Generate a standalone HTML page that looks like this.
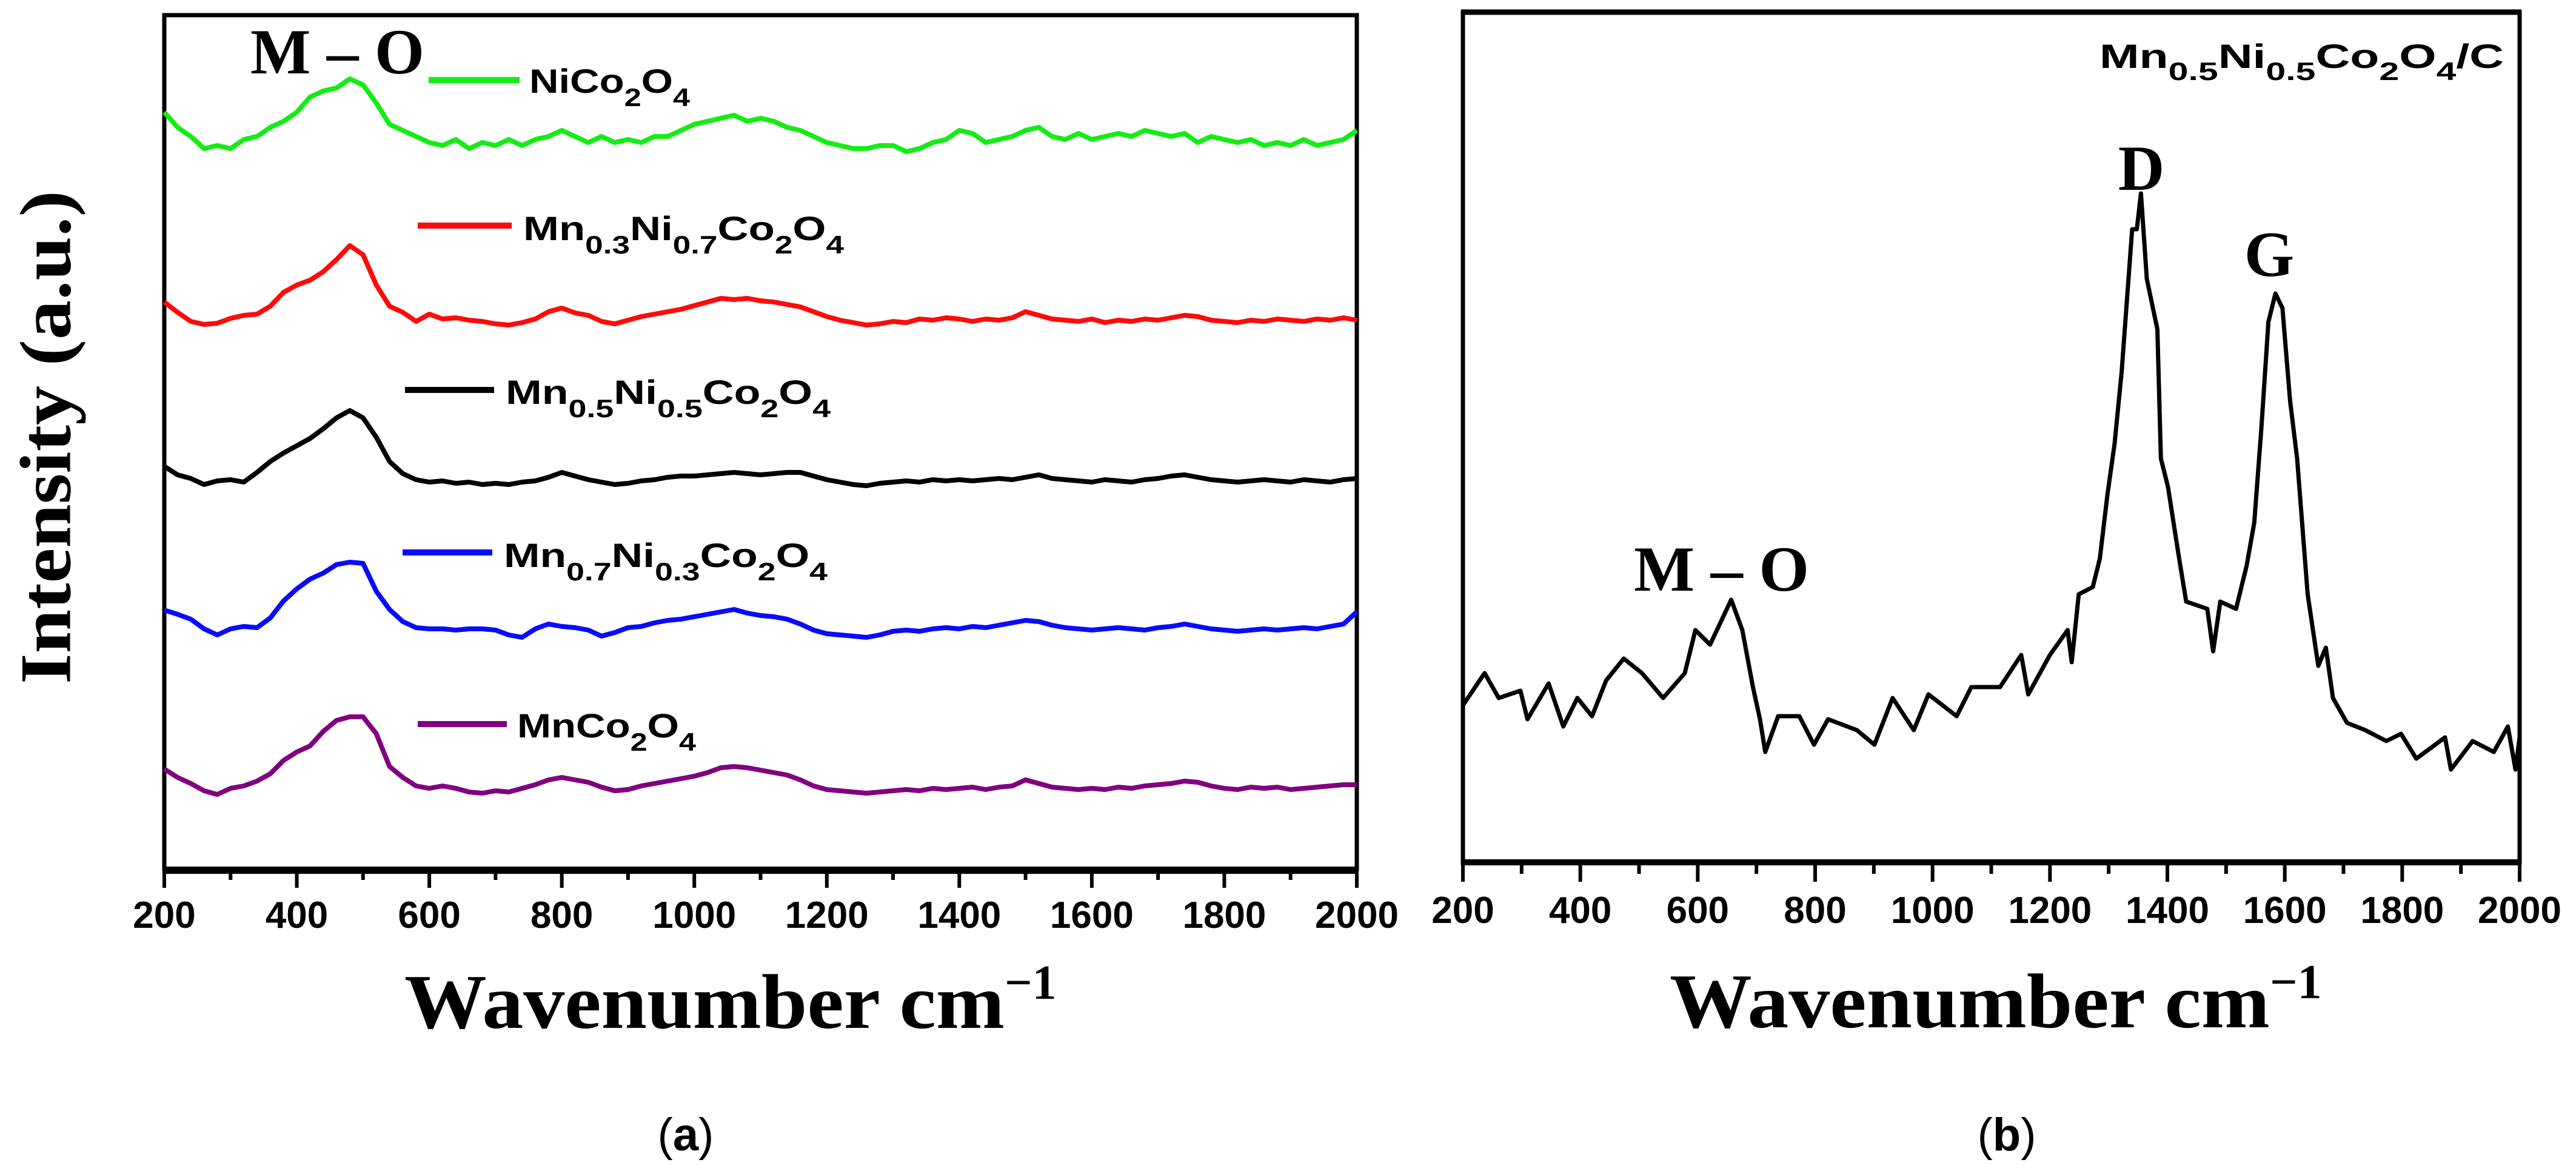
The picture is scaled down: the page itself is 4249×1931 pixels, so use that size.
<!DOCTYPE html>
<html><head><meta charset="utf-8"><style>
html,body{margin:0;padding:0;background:#fff;}
svg{display:block;}
text{font-family:"Liberation Sans",sans-serif;}
.ser{font-family:"Liberation Serif",serif;font-weight:bold;}
</style></head><body>
<svg id="fig" xmlns="http://www.w3.org/2000/svg" width="4249" height="1931" viewBox="0 0 4249 1931">
<g id="panelA"></g>
<g id="panelB"></g>
</svg>
<script>
// ---- Panel (a) data ----
const wnA = [];
for (let w = 200; w <= 2000; w += 20) wnA.push(w);
const seriesNames = ["NiCo2O4","Mn0.3Ni0.7Co2O4","Mn0.5Ni0.5Co2O4","Mn0.7Ni0.3Co2O4","MnCo2O4"];
const seriesColors = ["#14ec14","#ff0a0a","#000000","#0a0aff","#800080"];
const seriesOffsets = [1183, 897, 632, 382, 123];
const greenVals = [65,40,25,5,10,5,20,25,40,50,65,90,100,105,120,110,80,45,35,25,15,10,20,5,15,10,20,10,20,25,35,25,15,25,15,20,15,25,25,35,45,50,55,60,50,55,50,40,35,25,15,10,5,5,10,10,0,5,15,20,35,30,15,20,25,35,40,25,20,30,20,25,30,25,35,30,25,30,15,25,20,15,20,10,15,10,20,10,15,20,35];
const redVals = [38,21,6,1,3,11,16,18,31,54,66,74,88,108,131,116,66,31,21,6,18,10,12,8,6,2,0,4,10,22,28,20,16,6,2,8,14,18,22,26,32,38,44,42,44,40,38,34,30,22,14,8,4,0,2,6,4,10,8,12,10,6,10,8,12,22,16,10,8,6,10,4,8,6,10,8,12,16,14,8,6,4,8,6,10,8,6,10,8,12,8];
const blackVals = [32,18,12,2,8,10,6,22,40,54,66,78,94,112,124,112,80,40,20,10,6,8,4,6,2,4,2,6,8,14,22,16,10,6,2,4,8,10,14,16,16,18,20,22,20,18,20,22,22,16,10,6,2,0,4,6,8,6,10,8,10,8,10,12,10,14,18,12,10,8,6,10,8,6,10,12,16,18,14,10,8,6,8,10,8,6,10,8,6,10,12];
const blueVals = [45,38,30,14,4,14,18,16,32,60,80,96,106,120,124,122,76,46,26,16,14,14,12,14,14,12,4,0,14,22,18,16,12,2,8,16,18,24,28,30,34,38,42,46,40,36,34,30,22,12,6,4,2,0,4,10,12,10,14,16,14,18,16,20,24,28,26,20,16,14,12,14,16,14,12,16,18,22,18,14,12,10,12,14,12,14,16,14,18,22,42];
const purpleVals = [42,28,18,6,0,10,14,22,34,56,70,80,104,122,128,128,100,46,28,14,10,14,10,4,2,6,4,10,16,24,28,24,20,12,6,8,14,18,22,26,30,36,44,46,44,40,36,32,24,14,8,6,4,2,4,6,8,6,10,8,10,12,8,12,14,24,18,12,10,8,10,8,12,10,14,16,18,22,20,14,10,8,12,10,12,8,10,12,14,16,16];
const ticksX = [200,400,600,800,1000,1200,1400,1600,1800,2000];
const minorX = [300,500,700,900,1100,1300,1500,1700,1900];

// ---- Panel (b) data ----
const wnB = [200,237,261,298,310,346,371,395,420,444,474,505,541,578,596,621,657,676,694,706,715,737,773,798,822,871,901,932,968,993,1041,1066,1115,1151,1163,1200,1230,1237,1249,1273,1285,1298,1310,1322,1340,1348,1355,1365,1383,1389,1401,1420,1432,1468,1478,1490,1517,1535,1548,1560,1572,1584,1596,1609,1621,1639,1657,1670,1682,1706,1737,1773,1798,1824,1873,1883,1920,1956,1980,1993,2000];
const valsB = [260,313,272,284,237,296,225,272,242,301,337,313,272,313,384,360,434,384,290,237,183,242,242,195,237,219,195,272,219,278,242,290,290,343,278,343,384,331,443,455,502,608,691,809,1045,1045,1104,963,880,667,620,502,431,419,349,431,419,490,561,715,892,939,915,762,667,443,325,355,272,231,219,201,213,172,207,154,201,183,225,154,207];

const NS = "http://www.w3.org/2000/svg";
function mk(parent, tag, attrs){
  const e = document.createElementNS(NS, tag);
  for (const k in attrs) e.setAttribute(k, attrs[k]);
  parent.appendChild(e);
  return e;
}
const xA = w => 271 + (w - 200) * (1967 / 1800);
const yA = v => 1433 - v * (1411 / 1411);
const xB = w => 2413 + (w - 200) * (1743 / 1800);
const yB = v => 1423 - v * (1405 / 1405);

const gA = document.getElementById('panelA');
const gB = document.getElementById('panelB');

// ---- Panel A frame ----
let fr = mk(gA,'rect',{x:271,y:25,width:1967,height:1408,fill:'none',stroke:'#000','stroke-width':7});


let ax = mk(gA,'line',{x1:268,y1:1435,x2:2241,y2:1435,stroke:'#000','stroke-width':12});


ticksX.forEach(t=>{
  const l = mk(gA,'line',{x1:xA(t),y1:1435,x2:xA(t),y2:1464,stroke:'#000','stroke-width':6});
  
  
  const tx = mk(gA,'text',{x:xA(t),y:1530,'text-anchor':'middle','font-size':62,'font-weight':'bold'});
  tx.textContent = t;
  
  
});
minorX.forEach(t=>{
  const l = mk(gA,'line',{x1:xA(t),y1:1435,x2:xA(t),y2:1451,stroke:'#000','stroke-width':6});
  
  
});

// series
const allVals = [greenVals, redVals, blackVals, blueVals, purpleVals];
allVals.forEach((vals, si)=>{
  const pts = vals.map((v,i)=> xA(wnA[i]).toFixed(1)+','+yA(v + seriesOffsets[si]).toFixed(1)).join(' ');
  const p = mk(gA,'polyline',{points:pts,fill:'none',stroke:seriesColors[si],'stroke-width':8,'stroke-linejoin':'round'});
  
  
});
</script>
<script>
// legends (panel A)
(function(){
  const gA = document.getElementById('panelA');
  const legs = [
    {x1:707,x2:857,y:132,tx:873,ty:153,len:265,c:"#14ec14",parts:[["NiCo",0],["2",1],["O",0],["4",1]]},
    {x1:689,x2:844,y:372,tx:863,ty:396,len:529,c:"#ff0a0a",parts:[["Mn",0],["0.3",1],["Ni",0],["0.7",1],["Co",0],["2",1],["O",0],["4",1]]},
    {x1:668,x2:815,y:643,tx:834,ty:666,len:536,c:"#000",parts:[["Mn",0],["0.5",1],["Ni",0],["0.5",1],["Co",0],["2",1],["O",0],["4",1]]},
    {x1:664,x2:812,y:911,tx:831,ty:935,len:534,c:"#0a0aff",parts:[["Mn",0],["0.7",1],["Ni",0],["0.3",1],["Co",0],["2",1],["O",0],["4",1]]},
    {x1:689,x2:836,y:1194,tx:853,ty:1216,len:295,c:"#800080",parts:[["MnCo",0],["2",1],["O",0],["4",1]]}
  ];
  legs.forEach(L=>{
    const g = document.createElementNS("http://www.w3.org/2000/svg",'g');
    
    
    gA.appendChild(g);
    const l = document.createElementNS("http://www.w3.org/2000/svg",'line');
    l.setAttribute('x1',L.x1);l.setAttribute('x2',L.x2);l.setAttribute('y1',L.y);l.setAttribute('y2',L.y);
    l.setAttribute('stroke',L.c);l.setAttribute('stroke-width',10);
    
    
    g.appendChild(l);
    const t = document.createElementNS("http://www.w3.org/2000/svg",'text');
    t.setAttribute('x',L.tx);t.setAttribute('y',L.ty);t.setAttribute('font-size',56);t.setAttribute('font-weight','bold');
    t.setAttribute('textLength',L.len);t.setAttribute('lengthAdjust','spacingAndGlyphs');
    
    
    let prevSub = 0;
    L.parts.forEach(([s,sub])=>{
      const ts = document.createElementNS("http://www.w3.org/2000/svg",'tspan');
      ts.textContent = s;
      const dy = (sub && !prevSub) ? 22 : (!sub && prevSub ? -22 : 0);
      if (dy) ts.setAttribute('dy',dy);
      if (sub) ts.setAttribute('font-size',42);
      prevSub = sub;
      t.appendChild(ts);
    });
    g.appendChild(t);
  });
})();
</script>
<script>
// ---- Panel B ----
(function(){
  const gB = document.getElementById('panelB');
  let fr = mk(gB,'rect',{x:2413,y:20,width:1743,height:1403,fill:'none',stroke:'#000','stroke-width':7});
  
  
  let tl = mk(gB,'line',{x1:2410,y1:20,x2:4159,y2:20,stroke:'#000','stroke-width':9});
  
  
  let ax = mk(gB,'line',{x1:2410,y1:1422,x2:4159,y2:1422,stroke:'#000','stroke-width':10});
  
  
  ticksX.forEach(t=>{
    const l = mk(gB,'line',{x1:xB(t),y1:1422,x2:xB(t),y2:1454,stroke:'#000','stroke-width':6});
    
    
    const tx = mk(gB,'text',{x:xB(t),y:1522,'text-anchor':'middle','font-size':62,'font-weight':'bold'});
    tx.textContent = t;
    
    
  });
  minorX.forEach(t=>{
    const l = mk(gB,'line',{x1:xB(t),y1:1422,x2:xB(t),y2:1441,stroke:'#000','stroke-width':6});
    
    
  });
  const pts = valsB.map((v,i)=> xB(wnB[i]).toFixed(1)+','+yB(v).toFixed(1)).join(' ');
  const p = mk(gB,'polyline',{points:pts,fill:'none',stroke:'#000','stroke-width':7,'stroke-linejoin':'round'});
  
  
})();
</script>
<svg style="position:absolute;left:0;top:0" width="4249" height="1931" viewBox="0 0 4249 1931">
  <text class="ser" x="88" y="721" font-size="120" text-anchor="middle" textLength="814" lengthAdjust="spacingAndGlyphs" transform="rotate(-90 88 721)" dominant-baseline="middle">Intensity (a.u.)</text>
  <text class="ser" x="413" y="121" font-size="106" textLength="287" lengthAdjust="spacingAndGlyphs">M – O</text>
  <text class="ser" x="667" y="1695" font-size="128"><tspan textLength="990" lengthAdjust="spacingAndGlyphs">Wavenumber cm</tspan><tspan dy="-48" font-size="80">−1</tspan></text>
  <text x="1131" y="1897" font-family="Liberation Serif, serif" font-size="76" text-anchor="middle">(<tspan font-weight="bold">a</tspan>)</text>
  <text class="ser" x="2754" y="1694" font-size="128"><tspan textLength="990" lengthAdjust="spacingAndGlyphs">Wavenumber cm</tspan><tspan dy="-48" font-size="80">−1</tspan></text>
  <text x="3310" y="1897" font-family="Liberation Serif, serif" font-size="76" text-anchor="middle">(<tspan font-weight="bold">b</tspan>)</text>
  <text x="3463" y="112" font-size="56" font-weight="bold" textLength="667" lengthAdjust="spacingAndGlyphs">Mn<tspan dy="20" font-size="42">0.5</tspan><tspan dy="-20">Ni</tspan><tspan dy="20" font-size="42">0.5</tspan><tspan dy="-20">Co</tspan><tspan dy="20" font-size="42">2</tspan><tspan dy="-20">O</tspan><tspan dy="20" font-size="42">4</tspan><tspan dy="-20">/C</tspan></text>
  <text class="ser" x="3532" y="313" font-size="106" text-anchor="middle">D</text>
  <text class="ser" x="3743" y="455" font-size="106" text-anchor="middle">G</text>
  <text class="ser" x="2695" y="974" font-size="106" textLength="289" lengthAdjust="spacingAndGlyphs">M – O</text>
</svg>
</body></html>
